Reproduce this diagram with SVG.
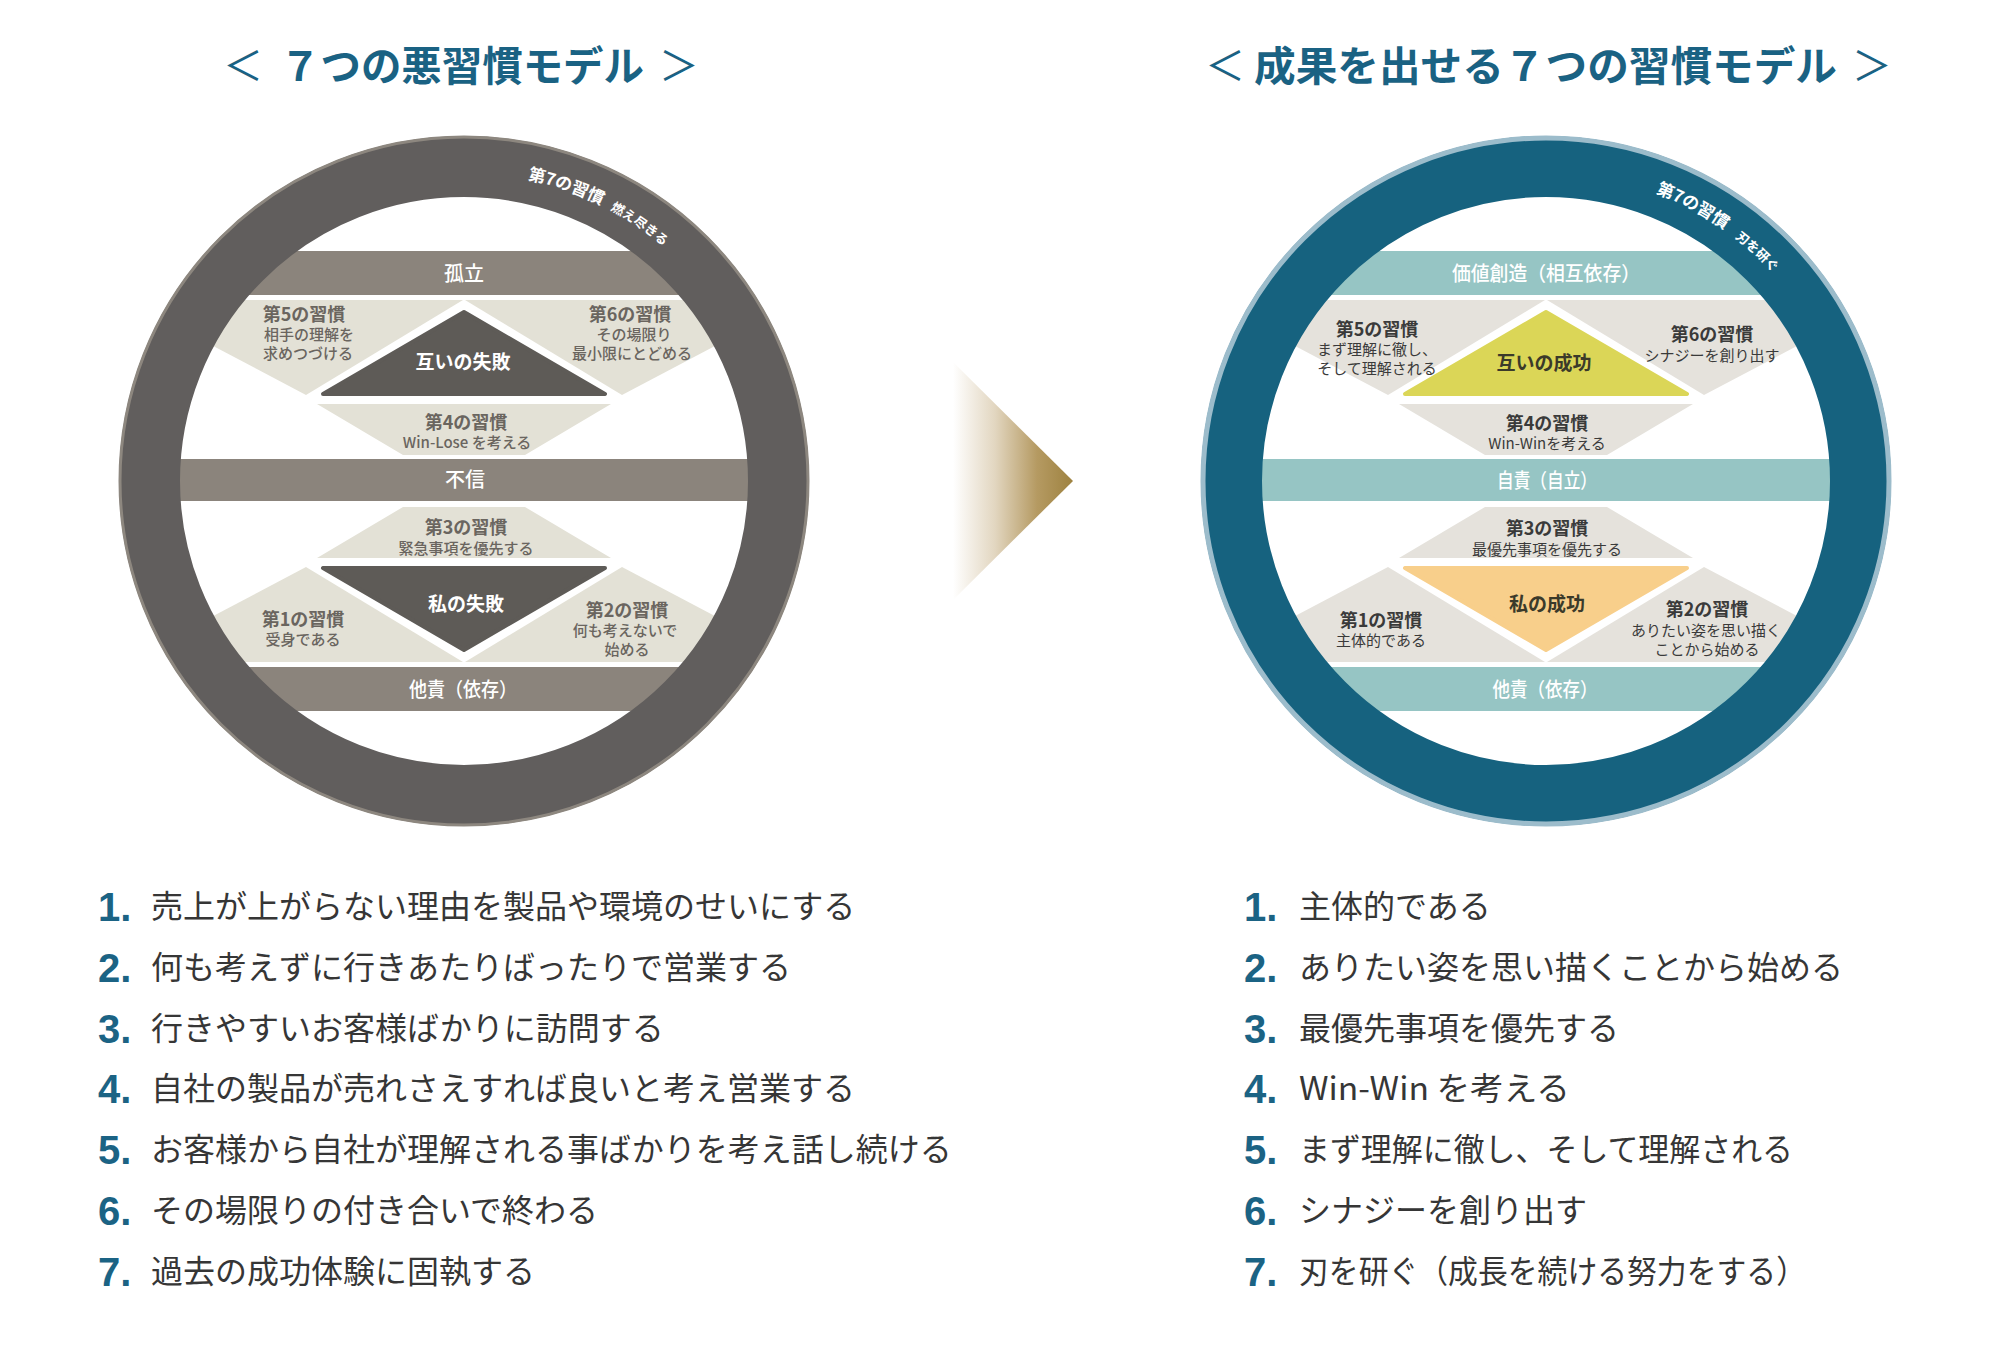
<svg xmlns="http://www.w3.org/2000/svg" xmlns:xlink="http://www.w3.org/1999/xlink" width="2000" height="1350" viewBox="0 0 2000 1350">
<style>
text { font-family: "Noto Sans CJK JP", "Noto Sans", sans-serif; }
.title { fill: #1a6283; font-size: 41px; font-weight: 700; }
.brk { fill: #1a6283; font-size: 40px; font-weight: 400; text-anchor: middle; }
.band-l { fill: #8b847c; }
.band-r { fill: #96c5c4; }
.beige-l { fill: #e3e1d6; }
.beige-r { fill: #e5e2dc; }
.dark-l { fill: #5e5b57; stroke: #5e5b57; stroke-width: 4; stroke-linejoin: round; }
.btxt { fill: #ffffff; font-size: 20px; font-weight: 500; text-anchor: middle; }
.head-l { fill: #6a655f; font-size: 18px; font-weight: 700; text-anchor: middle; }
.sub-l { fill: #6a655f; font-size: 15px; font-weight: 500; text-anchor: middle; }
.head-r { fill: #3a3a3a; font-size: 18px; font-weight: 700; text-anchor: middle; }
.sub-r { fill: #3a3a3a; font-size: 15px; font-weight: 400; text-anchor: middle; }
.tri-l { fill: #ffffff; font-size: 19px; font-weight: 700; text-anchor: middle; }
.tri-r { fill: #3b3a2a; font-size: 19px; font-weight: 700; text-anchor: middle; }
.ring { fill: #ffffff; font-weight: 700; }
.num { fill: #1b6384; font-family: "Liberation Sans", Arial, sans-serif; font-size: 40px; font-weight: 700; }
.item { fill: #363636; font-size: 32px; font-weight: 400; }
</style>
<defs>
<clipPath id="inner" clipPathUnits="userSpaceOnUse"><circle cx="464" cy="481" r="286"/></clipPath>
<path id="arc" d="M464,173 A308,308 0 0 1 772,481" fill="none"/>
<linearGradient id="arrowGrad" gradientUnits="userSpaceOnUse" x1="953" y1="0" x2="1073" y2="0">
<stop offset="0" stop-color="#ffffff"/>
<stop offset="0.35" stop-color="#e2d6c0"/>
<stop offset="0.7" stop-color="#b59a62"/>
<stop offset="1" stop-color="#9e8240"/>
</linearGradient>
</defs>
<rect width="2000" height="1350" fill="#ffffff"/>

<g id="title-left">
<text class="brk" x="243" y="80">＜</text>
<text class="title" x="280" y="81" textLength="364" lengthAdjust="spacingAndGlyphs">７つの悪習慣モデル</text>
<text class="brk" x="679" y="80">＞</text>
</g>
<g id="title-right">
<text class="brk" x="1225" y="80">＜</text>
<text class="title" x="1254" y="81" textLength="583" lengthAdjust="spacingAndGlyphs">成果を出せる７つの習慣モデル</text>
<text class="brk" x="1872" y="80">＞</text>
</g>

<g id="left-model">
<g id="l-band-top"><rect class="band-l" x="170" y="251" width="588" height="44" clip-path="url(#inner)"/><text class="btxt" x="464" y="281">孤立</text></g>
<g id="l-habit5"><polygon class="beige-l" points="126,300 463,300 306,395" clip-path="url(#inner)"/>
<text class="head-l" x="304" y="321">第5の習慣</text><text class="sub-l" x="309" y="340">相手の理解を</text><text class="sub-l" x="308" y="359">求めつづける</text></g>
<g id="l-habit6"><polygon class="beige-l" points="802,300 465,300 622,395" clip-path="url(#inner)"/>
<text class="head-l" x="630" y="321">第6の習慣</text><text class="sub-l" x="634" y="340">その場限り</text><text class="sub-l" x="632" y="359">最小限にとどめる</text></g>
<g id="l-mutual"><polygon class="dark-l" points="464,312 605,394 323,394"/><text class="tri-l" x="463" y="369">互いの失敗</text></g>
<g id="l-habit4"><polygon class="beige-l" points="317,404 611,404 525,455 403,455"/>
<text class="head-l" x="466" y="429">第4の習慣</text><text class="sub-l" x="467" y="448">Win-Lose を考える</text></g>
<g id="l-band-mid"><rect class="band-l" x="170" y="459" width="588" height="42" clip-path="url(#inner)"/><text class="btxt" x="465" y="487">不信</text></g>
<g id="l-habit3"><polygon class="beige-l" points="403,507 525,507 611,558 317,558"/>
<text class="head-l" x="466" y="534">第3の習慣</text><text class="sub-l" x="466" y="554">緊急事項を優先する</text></g>
<g id="l-private"><polygon class="dark-l" points="323,568 605,568 464,650"/><text class="tri-l" x="466" y="611">私の失敗</text></g>
<g id="l-habit1"><polygon class="beige-l" points="306,567 463,662 126,662" clip-path="url(#inner)"/>
<text class="head-l" x="303" y="626">第1の習慣</text><text class="sub-l" x="303" y="645">受身である</text></g>
<g id="l-habit2"><polygon class="beige-l" points="622,567 465,662 802,662" clip-path="url(#inner)"/>
<text class="head-l" x="627" y="617">第2の習慣</text><text class="sub-l" x="625" y="636">何も考えないで</text><text class="sub-l" x="627" y="655">始める</text></g>
<g id="l-band-bottom"><rect class="band-l" x="170" y="667" width="588" height="44" clip-path="url(#inner)"/><text class="btxt" x="463" y="697" textLength="108" lengthAdjust="spacingAndGlyphs">他責（依存）</text></g>
<g id="l-ring">
<circle cx="464" cy="481" r="314.5" fill="none" stroke="#615e5d" stroke-width="61"/>
<circle cx="464" cy="481" r="344" fill="none" stroke="#8d877f" stroke-width="3"/>
<text class="ring"><textPath href="#arc" xlink:href="#arc" startOffset="64"><tspan font-size="17">第7の習慣</tspan><tspan font-size="13" dx="10">燃え尽きる</tspan></textPath></text>
</g>
</g>

<g id="right-model" transform="translate(1082,0)">
<g id="r-band-top"><rect class="band-r" x="170" y="251" width="588" height="44" clip-path="url(#inner)"/><text class="btxt" x="464" y="281" textLength="188" lengthAdjust="spacingAndGlyphs">価値創造（相互依存）</text></g>
<g id="r-habit5"><polygon class="beige-r" points="126,300 463,300 306,395" clip-path="url(#inner)"/>
<text class="head-r" x="295" y="336">第5の習慣</text><text class="sub-r" x="295" y="355">まず理解に徹し、</text><text class="sub-r" x="295" y="374">そして理解される</text></g>
<g id="r-habit6"><polygon class="beige-r" points="802,300 465,300 622,395" clip-path="url(#inner)"/>
<text class="head-r" x="630" y="341">第6の習慣</text><text class="sub-r" x="630" y="361">シナジーを創り出す</text></g>
<g id="r-mutual"><polygon points="464,312 605,394 323,394" fill="#dbd657" stroke="#dbd657" stroke-width="4" stroke-linejoin="round"/><text class="tri-r" x="462" y="370">互いの成功</text></g>
<g id="r-habit4"><polygon class="beige-r" points="317,404 611,404 525,455 403,455"/>
<text class="head-r" x="465" y="430">第4の習慣</text><text class="sub-r" x="465" y="449">Win-Winを考える</text></g>
<g id="r-band-mid"><rect class="band-r" x="170" y="459" width="588" height="42" clip-path="url(#inner)"/><text class="btxt" x="465" y="488" textLength="100" lengthAdjust="spacingAndGlyphs">自責（自立）</text></g>
<g id="r-habit3"><polygon class="beige-r" points="403,507 525,507 611,558 317,558"/>
<text class="head-r" x="465" y="535">第3の習慣</text><text class="sub-r" x="465" y="555">最優先事項を優先する</text></g>
<g id="r-private"><polygon points="323,568 605,568 464,650" fill="#f8cf8b" stroke="#f8cf8b" stroke-width="4" stroke-linejoin="round"/><text class="tri-r" x="465" y="611">私の成功</text></g>
<g id="r-habit1"><polygon class="beige-r" points="306,567 463,662 126,662" clip-path="url(#inner)"/>
<text class="head-r" x="299" y="627">第1の習慣</text><text class="sub-r" x="299" y="646">主体的である</text></g>
<g id="r-habit2"><polygon class="beige-r" points="622,567 465,662 802,662" clip-path="url(#inner)"/>
<text class="head-r" x="625" y="616">第2の習慣</text><text class="sub-r" x="624" y="636">ありたい姿を思い描く</text><text class="sub-r" x="625" y="655">ことから始める</text></g>
<g id="r-band-bottom"><rect class="band-r" x="170" y="667" width="588" height="44" clip-path="url(#inner)"/><text class="btxt" x="463" y="697" textLength="105" lengthAdjust="spacingAndGlyphs">他責（依存）</text></g>
<g id="r-ring">
<circle cx="464" cy="481" r="314.5" fill="none" stroke="#16627f" stroke-width="61"/>
<circle cx="464" cy="481" r="343" fill="none" stroke="#9cbccb" stroke-width="5"/>
<text class="ring"><textPath href="#arc" xlink:href="#arc" startOffset="112"><tspan font-size="17">第7の習慣</tspan><tspan font-size="13" dx="13">刃を研ぐ</tspan></textPath></text>
</g>
</g>

<g id="connectors">
<polygon id="arrow" points="953,362 1073,481 953,600" fill="url(#arrowGrad)"/>
</g>

<g id="list-left">
<text class="num" x="98" y="921">1.</text><text class="item" x="151" y="918">売上が上がらない理由を製品や環境のせいにする</text>
<text class="num" x="98" y="982">2.</text><text class="item" x="151" y="979">何も考えずに行きあたりばったりで営業する</text>
<text class="num" x="98" y="1043">3.</text><text class="item" x="151" y="1040">行きやすいお客様ばかりに訪問する</text>
<text class="num" x="98" y="1103">4.</text><text class="item" x="151" y="1100">自社の製品が売れさえすれば良いと考え営業する</text>
<text class="num" x="98" y="1164">5.</text><text class="item" x="151" y="1161">お客様から自社が理解される事ばかりを考え話し続ける</text>
<text class="num" x="98" y="1225">6.</text><text class="item" x="151" y="1222">その場限りの付き合いで終わる</text>
<text class="num" x="98" y="1286">7.</text><text class="item" x="151" y="1283">過去の成功体験に固執する</text>
</g>
<g id="list-right">
<text class="num" x="1244" y="921">1.</text><text class="item" x="1299" y="918">主体的である</text>
<text class="num" x="1244" y="982">2.</text><text class="item" x="1299" y="979">ありたい姿を思い描くことから始める</text>
<text class="num" x="1244" y="1043">3.</text><text class="item" x="1299" y="1040">最優先事項を優先する</text>
<text class="num" x="1244" y="1103">4.</text><text class="item" x="1299" y="1100" textLength="271" lengthAdjust="spacingAndGlyphs">Win-Win を考える</text>
<text class="num" x="1244" y="1164">5.</text><text class="item" x="1299" y="1161" textLength="494" lengthAdjust="spacingAndGlyphs">まず理解に徹し、そして理解される</text>
<text class="num" x="1244" y="1225">6.</text><text class="item" x="1299" y="1222">シナジーを創り出す</text>
<text class="num" x="1244" y="1286">7.</text><text class="item" x="1299" y="1283" textLength="507" lengthAdjust="spacingAndGlyphs">刃を研ぐ（成長を続ける努力をする）</text>
</g>
</svg>
